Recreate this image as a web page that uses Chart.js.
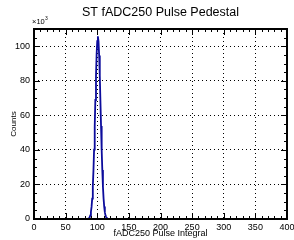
<!DOCTYPE html>
<html>
<head>
<meta charset="utf-8">
<script src="https://cdn.jsdelivr.net/npm/chart.js@4.4.0/dist/chart.umd.min.js"></script>
<style>
  html, body { margin: 0; padding: 0; background: #fff; }
  #wrap { width: 294px; height: 240px; }
</style>
</head>
<body>
<div id="wrap"><canvas id="chart" width="294" height="240"></canvas></div>
<script>
// bin centres (fADC250 pulse integral) and counts in units of 10^3
const binX = [85, 86, 87, 88, 89, 90, 91, 92, 93, 94, 95, 96, 97, 98, 99, 100,
    101, 102, 103, 104, 105, 106, 107, 108, 109, 110, 111, 112, 113, 114, 115, 116, 117];
const counts = [0.0, 0.2, 0.5, 1.1, 2.1, 4.1, 7.0, 11.8, 18.9, 28.1, 40.2, 53.6, 68.9, 82.7, 95.2, 102.9,
    105.8, 102.8, 94.7, 83.1, 68.3, 53.9, 39.8, 28.4, 18.7, 11.9, 7.2, 4.0, 2.1, 1.1, 0.5, 0.2, 0.0];
const xTicks = [0, 50, 100, 150, 200, 250, 300, 350, 400];
const yTicks = [0, 20, 40, 60, 80, 100];

const FONT = "'Liberation Sans', Arial, Helvetica, sans-serif";

// ROOT-like frame with inside ticks on all four sides
const frame = {
    id: 'frame',
    afterDraw(chart) {
        const ctx = chart.ctx;
        const a = chart.chartArea;
        const xs = chart.scales.x, ys = chart.scales.y;
        ctx.save();
        ctx.strokeStyle = '#000';
        ctx.lineWidth = 1;
        ctx.beginPath();
        for (let v = 0; v <= 400; v += 10) {
            const px = Math.round(xs.getPixelForValue(v)) + 0.5;
            const len = v % 50 === 0 ? 6 : 3;
            ctx.moveTo(px, a.bottom); ctx.lineTo(px, a.bottom - len);
            ctx.moveTo(px, a.top); ctx.lineTo(px, a.top + len);
        }
        for (let v = 0; v <= 110; v += 5) {
            const py = Math.round(ys.getPixelForValue(v)) + 0.5;
            const len = v % 20 === 0 ? 6 : 3;
            ctx.moveTo(a.left, py); ctx.lineTo(a.left + len, py);
            ctx.moveTo(a.right, py); ctx.lineTo(a.right - len, py);
        }
        ctx.stroke();
        ctx.lineWidth = 2;
        ctx.strokeRect(a.left, a.top, a.right - a.left, a.bottom - a.top);
        // exponent label
        ctx.fillStyle = '#000';
        ctx.font = '7.5px ' + FONT;
        ctx.textBaseline = 'alphabetic';
        ctx.fillText('\u00d710', a.left - 2, a.top - 5);
        ctx.font = '5px ' + FONT;
        ctx.fillText('3', a.left + 11, a.top - 9);
        ctx.restore();
    }
};

new Chart(document.getElementById('chart'), {
    type: 'line',
    data: {
        datasets: [{
            label: 'ST fADC250 Pulse Pedestal',
            data: binX.map((x, i) => ({ x: x, y: counts[i] })),
            borderColor: '#0c0c9c',
            borderWidth: 1.8,
            pointRadius: 0,
            fill: false,
            tension: 0
        }]
    },
    plugins: [frame],
    options: {
        responsive: false,
        animation: false,
        layout: { padding: { left: 0, right: 7, top: 0, bottom: 0 } },
        plugins: {
            legend: { display: false },
            tooltip: { enabled: false },
            title: {
                display: true,
                text: 'ST fADC250 Pulse Pedestal',
                fullSize: false,
                color: '#000',
                font: { family: FONT, size: 12.5, weight: 'normal' },
                padding: { top: 5.5, bottom: 8.5 }
            }
        },
        scales: {
            x: {
                type: 'linear',
                min: 0,
                max: 400,
                afterFit: s => { s.height = 21; s.paddingLeft = 0; s.paddingRight = 0; },
                afterBuildTicks: s => { s.ticks = xTicks.map(v => ({ value: v })); },
                grid: { color: '#000', lineWidth: 1, drawTicks: false },
                border: { display: false, dash: [1, 3] },
                ticks: {
                    padding: 3,
                    color: '#000',
                    maxRotation: 0,
                    autoSkip: false,
                    font: { family: FONT, size: 9 }
                },
                title: {
                    display: true,
                    text: 'fADC250 Pulse Integral',
                    color: '#000',
                    font: { family: FONT, size: 9 },
                    padding: { top: 0, bottom: 1 }
                }
            },
            y: {
                min: 0,
                max: 110,
                afterFit: s => { s.width = 34; s.paddingTop = 0; s.paddingBottom = 0; },
                afterBuildTicks: s => { s.ticks = yTicks.map(v => ({ value: v })); },
                grid: { color: '#000', lineWidth: 1, drawTicks: false },
                border: { display: false, dash: [1, 3] },
                ticks: {
                    padding: 4,
                    color: '#000',
                    font: { family: FONT, size: 9 }
                },
                title: {
                    display: true,
                    text: 'Counts',
                    color: '#000',
                    font: { family: FONT, size: 8 },
                    padding: { top: 9, bottom: 0 }
                }
            }
        }
    }
});
</script>
</body>
</html>
